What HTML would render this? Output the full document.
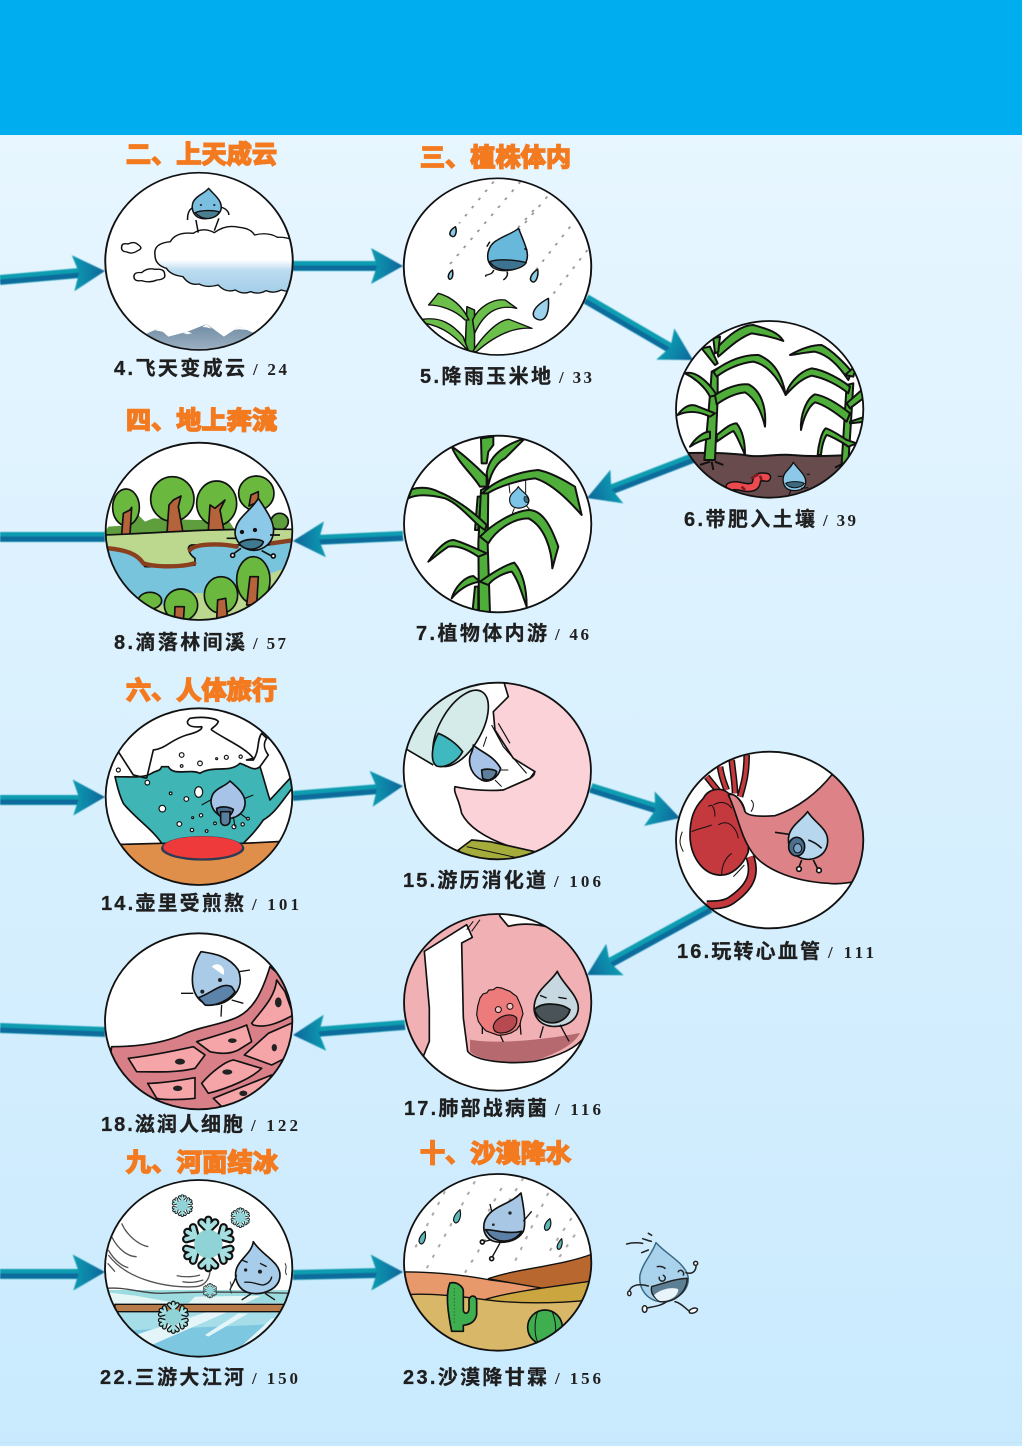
<!DOCTYPE html>
<html lang="zh"><head><meta charset="utf-8"><title>水滴旅行</title>
<style>
html,body{margin:0;padding:0;background:#fff}
svg{display:block}
.t{font-family:"Liberation Sans","Noto Sans CJK SC",sans-serif;font-weight:700;font-size:25px;fill:#f47a20;stroke:#f47a20;stroke-width:1.7}
.l{font-family:"Liberation Sans","Noto Sans CJK SC",sans-serif;font-weight:700;font-size:20px;fill:#1f1f1f;stroke:#1f1f1f;stroke-width:.3}
.p{font-family:"Liberation Serif","Noto Sans CJK SC",serif;font-weight:700;font-size:17px;fill:#1f1f1f}
</style></head><body>
<svg width="1022" height="1453" viewBox="0 0 1022 1453" xmlns="http://www.w3.org/2000/svg">
<defs>
<linearGradient id="bg" x1="0" y1="0" x2="0" y2="1"><stop offset="0" stop-color="#eaf7ff"/><stop offset="1" stop-color="#c9eafe"/></linearGradient>
<linearGradient id="hd" x1="0" y1="0" x2="1" y2="0"><stop offset="0" stop-color="#129cb0"/><stop offset=".55" stop-color="#0c7ea6"/><stop offset="1" stop-color="#0b6496"/></linearGradient>
<linearGradient id="cl" x1="0" y1="0" x2="0" y2="1"><stop offset="0" stop-color="#fff"/><stop offset=".5" stop-color="#fff"/><stop offset=".66" stop-color="#bcdcf0"/><stop offset="1" stop-color="#a3cde8"/></linearGradient>
<linearGradient id="mt" x1="0" y1="0" x2="0" y2="1"><stop offset="0" stop-color="#6f8ba3"/><stop offset="1" stop-color="#a3b6c6"/></linearGradient>
<filter id="b1" x="-20%" y="-40%" width="140%" height="180%"><feGaussianBlur stdDeviation=".5"/></filter>
<g id="ah"><path d="M0,0L-32,-18L-26,0L-32,18Z" fill="url(#hd)"/></g>
<g id="arm"><path d="M0,0V-85M0,-52L-24,-76M0,-52L24,-76" fill="none" stroke="#111" stroke-width="30" stroke-linecap="round"/><path d="M0,0V-85M0,-52L-24,-76M0,-52L24,-76" fill="none" stroke="#a5dfe0" stroke-width="15" stroke-linecap="round"/></g>
<g id="sf"><use href="#arm"/><use href="#arm" transform="rotate(60)"/><use href="#arm" transform="rotate(120)"/><use href="#arm" transform="rotate(180)"/><use href="#arm" transform="rotate(240)"/><use href="#arm" transform="rotate(300)"/><circle r="50" fill="#8fd3d6"/></g>
</defs>

<rect width="1022" height="1446" fill="url(#bg)"/>
<rect y="1442" width="1022" height="1" fill="#bfe3f5"/>
<rect width="1022" height="135" fill="#00aeef"/>

<!-- arrows -->
<g filter="url(#b1)">
<g stroke-linecap="butt" fill="none">
<path d="M0,280L80,273M293,266H380M586,299L670,348M693,458L610,490M403,536L316,540M105,537H0M0,800H80M293,796L380,789M591,788L658,809M710,908L608,964M405,1025L316,1032M105,1032L0,1028M0,1274H80M293,1275L380,1273" stroke="#0d9cb0" stroke-width="10"/>
<path d="M0,282L80,275M293,268H380M585,301L669,350M694,460L611,492M403,538L316,542M105,539H0M0,802H80M293,798L380,791M590,790L657,811M711,910L609,966M405,1027L316,1034M105,1034L0,1030M0,1276H80M293,1277L380,1275" stroke="#0b6c9c" stroke-width="5"/>
</g>
<use href="#ah" transform="translate(105,271) rotate(-4)"/>
<use href="#ah" transform="translate(403,266)"/>
<use href="#ah" transform="translate(693,360) rotate(30)"/>
<use href="#ah" transform="translate(587,498) rotate(159)"/>
<use href="#ah" transform="translate(293,541) rotate(177)"/>
<use href="#ah" transform="translate(105,797) rotate(-1)"/>
<use href="#ah" transform="translate(403,786) rotate(-5)"/>
<use href="#ah" transform="translate(680,818) rotate(17)"/>
<use href="#ah" transform="translate(587,975) rotate(151)"/>
<use href="#ah" transform="translate(293,1035) rotate(176)"/>
<use href="#ah" transform="translate(105,1272) rotate(-1)"/>
<use href="#ah" transform="translate(403,1272) rotate(-1)"/>
</g>

<!-- A: cloud -->
<g transform="translate(0,120) scale(.3827,.3333)">
<clipPath id="cA"><ellipse cx="520" cy="424" rx="245" ry="266"/></clipPath>
<ellipse cx="520" cy="424" rx="245" ry="266" fill="#fff"/>
<g clip-path="url(#cA)" stroke="#111" stroke-width="4" stroke-linejoin="round">
<path d="M405,405Q400,370 445,365Q460,335 505,340Q530,320 560,338Q590,312 625,322Q655,325 665,345Q700,335 725,352Q750,350 775,365L775,510Q755,518 735,510Q715,522 695,512Q675,525 655,515Q635,525 615,510Q590,520 570,495Q540,505 520,492Q495,498 478,470Q445,465 435,445Q405,435 405,405Z" fill="url(#cl)"/>
<path d="M318,380Q318,368 335,372Q350,362 362,375Q375,385 360,392Q345,404 332,396Q315,395 318,380Z" fill="#fff"/>
<path d="M350,470Q350,455 370,458Q385,442 405,448Q430,445 430,462Q435,478 410,480Q390,490 370,482Q350,485 350,470Z" fill="#fff"/>
<path d="M385,640L415,625L440,650L490,635L540,612L585,650L625,620L665,640V700H385Z" fill="url(#mt)" stroke="none"/>
<path d="M405,631L415,625L428,636L415,633ZM478,639L490,635L502,640L490,643ZM528,621L540,612L553,626L540,622ZM612,630L625,620L645,630L625,628Z" fill="#fff" stroke="none"/>
<path d="M518,338L512,300M560,332L572,295M505,262C490,270 490,290 490,300M578,262C590,265 598,275 598,285" fill="none"/>
<path d="M545,205C560,225 580,240 578,265C575,290 545,300 525,295C505,290 498,265 505,245C515,225 535,220 545,205Z" fill="#7bbfe0"/>
<path d="M510,278C525,270 560,270 573,276C565,298 530,305 510,278Z" fill="#4a7f92"/>
<circle cx="525" cy="255" r="3" fill="#222" stroke="none"/><circle cx="560" cy="255" r="3" fill="#222" stroke="none"/>
</g>
<ellipse cx="520" cy="424" rx="245" ry="266" fill="none" stroke="#111" stroke-width="5"/>
</g>

<!-- B: rain on corn -->
<g transform="translate(0,120) scale(.3827,.3333)">
<clipPath id="cB"><ellipse cx="1300" cy="440" rx="245" ry="265"/></clipPath>
<ellipse cx="1300" cy="440" rx="245" ry="265" fill="#fff"/>
<g clip-path="url(#cB)" stroke="#111" stroke-width="4" stroke-linejoin="round">
<path d="M1290,185L1200,310M1360,185L1170,440M1430,230L1290,420M1395,270L1310,380M1490,320L1400,450M1535,390L1440,530" fill="none" stroke="#999" stroke-width="5" stroke-dasharray="8 22"/>
<path d="M1355,325C1370,370 1385,400 1375,425C1360,455 1300,460 1285,440C1265,415 1275,375 1300,360C1320,345 1340,340 1355,325Z" fill="#68b8dc"/>
<path d="M1280,425C1300,415 1350,420 1375,428C1360,455 1295,460 1280,425Z" fill="#3d7390"/>
<path d="M1290,450C1285,470 1265,460 1270,470M1325,455C1330,470 1315,480 1315,480M1378,390L1370,386M1272,380L1280,365" fill="none"/>
<path d="M1190,320C1195,335 1190,350 1183,350C1170,345 1175,330 1190,320Z" fill="#8ccbe4"/>
<path d="M1182,450C1185,465 1182,478 1175,478C1168,472 1172,458 1182,450Z" fill="#8ccbe4"/>
<path d="M1405,448C1408,470 1400,488 1392,486C1380,480 1388,460 1405,448Z" fill="#8ccbe4"/>
<path d="M1433,535C1435,570 1430,600 1410,600C1385,595 1385,565 1433,535Z" fill="#9dd2ec"/>
<path d="M1215,700L1220,560L1240,570L1240,700Z" fill="#4fa838"/>
<path d="M1120,555L1145,520C1180,530 1210,560 1225,600L1215,600C1190,570 1150,555 1120,555Z" fill="#6cbf4b"/>
<path d="M1235,600C1250,560 1290,535 1320,540L1350,565C1310,555 1270,565 1240,640Z" fill="#6cbf4b"/>
<path d="M1105,598C1150,590 1180,610 1210,650L1225,695C1190,650 1160,620 1110,610Z" fill="#6cbf4b"/>
<path d="M1235,695C1260,650 1300,600 1330,598L1390,625C1340,620 1290,650 1245,695Z" fill="#6cbf4b"/>
</g>
<ellipse cx="1300" cy="440" rx="245" ry="265" fill="none" stroke="#111" stroke-width="5"/>
</g>

<!-- C: soil -->
<g transform="translate(665,315) scale(.3333)">
<clipPath id="cC"><ellipse cx="314" cy="283" rx="281" ry="265"/></clipPath>
<ellipse cx="314" cy="283" rx="281" ry="265" fill="#fff"/>
<g clip-path="url(#cC)" stroke="#111" stroke-width="6" stroke-linejoin="round">
<path d="M20,415C120,412 200,415 240,420C280,430 340,415 380,420C440,425 500,425 610,415V560H20Z" fill="#684b4d"/>
<g fill="#4fae3a">
<path d="M118,435C125,350 135,250 140,170L158,160L158,250L150,435Z"/>
<path d="M155,100C190,60 230,30 265,30C300,40 340,50 355,78C320,65 290,60 260,55C220,70 190,100 160,125Z"/>
<path d="M110,100L135,95L158,145L150,150Z"/><path d="M145,70L165,65L160,110L150,115Z"/>
<path d="M60,175C90,165 130,200 155,240L135,245C120,215 90,190 60,175Z"/>
<path d="M145,170C190,135 240,118 280,120C320,135 350,170 362,240C340,190 310,150 265,140C220,145 180,165 155,185Z"/>
<path d="M150,240C180,220 220,205 250,208C285,225 305,270 300,335C290,290 270,250 240,232C210,235 180,250 155,268Z"/>
<path d="M38,300C60,270 80,265 100,275L150,295L135,305C105,290 70,285 38,300Z"/>
<path d="M75,395C90,370 115,350 135,350L135,370C110,375 90,385 75,395Z"/>
<path d="M155,360C175,345 195,325 215,325C235,350 240,390 240,420C225,385 215,360 205,348C190,355 170,370 155,380Z"/>
<path d="M530,445L538,320L545,210L565,205L558,320L550,445Z"/>
<path d="M375,120C410,100 440,90 470,90C500,105 540,145 560,170L550,195C520,150 490,120 450,110C420,112 395,118 375,120Z"/>
<path d="M362,240C370,210 400,170 440,160C480,165 530,195 555,215L550,235C520,210 480,190 440,182C410,190 385,215 362,240Z"/>
<path d="M408,345C405,300 425,250 450,238C490,245 530,275 555,295L545,320C515,295 480,270 450,262C430,275 415,310 408,345Z"/>
<path d="M458,420C460,390 470,350 482,340C500,345 530,365 545,375L575,385L550,395C530,380 500,365 485,360C475,375 470,400 468,420Z"/>
<path d="M545,265L590,225L595,250L555,280Z"/><path d="M555,320L600,305V320L555,325Z"/><path d="M540,180L575,150L565,185Z"/>
</g>
<path d="M135,440L105,450M140,440L145,465M150,440L175,450M530,448L510,458" fill="none"/>
<path d="M195,515C220,505 240,525 265,515C285,505 260,480 305,487" fill="none" stroke-width="28" stroke-linecap="round"/>
<path d="M195,515C220,505 240,525 265,515C285,505 260,480 305,487" fill="none" stroke="#ec4a4e" stroke-width="19" stroke-linecap="round"/>
<path d="M230,515L240,525M258,490L280,478M285,482L290,495" stroke="#7b1f24" stroke-width="8" fill="none"/>
<path d="M385,442C400,465 425,480 422,505C420,525 395,530 375,525C355,520 350,495 358,478C365,465 378,458 385,442Z" fill="#8cc8e8" stroke-width="4"/>
<path d="M362,505C375,498 405,498 418,505C410,520 375,525 362,505Z" fill="#3d6a7d" stroke-width="3"/>
<path d="M338,484H355M425,478H435M378,525L370,545M408,520L430,518" fill="none" stroke-width="3.5"/>
</g>
<ellipse cx="314" cy="283" rx="281" ry="265" fill="none" stroke="#111" stroke-width="5.5"/>
</g>

<!-- D: stalk -->
<g transform="translate(395,430) scale(.3333)">
<clipPath id="cD"><ellipse cx="308" cy="282" rx="281" ry="265"/></clipPath>
<ellipse cx="308" cy="282" rx="281" ry="265" fill="#fff"/>
<g clip-path="url(#cD)" stroke="#111" stroke-width="6" stroke-linejoin="round" fill="#4fae3a">
<path d="M232,550L240,470L250,470L250,550Z"/><path d="M240,300L248,200L258,200L250,300Z"/>
<path d="M252,550L250,340L258,180L280,170L278,340L285,550Z"/>
<path d="M262,190C300,150 370,125 430,120C480,130 530,165 540,170L560,255C520,210 470,160 420,145C370,150 310,170 278,190Z"/>
<path d="M40,205L50,178C80,168 110,175 130,185C170,200 230,240 275,285L270,300C240,285 200,225 150,205C110,195 70,190 40,205Z"/>
<path d="M255,320C290,285 350,245 400,240C440,240 465,280 490,350L472,415C470,360 450,290 400,265C350,265 300,305 280,340Z"/>
<path d="M100,395C120,365 150,330 175,330C200,335 240,355 275,370L250,380C220,360 190,345 160,350C130,370 115,385 100,395Z"/>
<path d="M170,505C180,470 210,440 235,438L255,455C220,460 190,480 170,505Z"/>
<path d="M255,455C290,430 330,405 358,398C385,430 395,480 395,530C380,490 370,450 350,425C320,430 290,450 280,465Z"/>
<path d="M170,50C195,65 240,105 275,140L275,170L255,170C230,130 190,100 170,50Z"/>
<path d="M275,130C280,90 310,50 390,25L330,85C310,95 290,120 280,165Z"/>
<path d="M258,25L295,20L295,45L280,65L275,100L260,100Z"/>
<path d="M370,170C380,185 402,195 402,212C400,232 375,238 358,232C342,225 340,205 350,192C358,182 365,180 370,170Z" fill="#7cc4e8" stroke-width="3.5"/>
<path d="M388,200C398,198 402,208 400,216C392,222 384,212 388,200Z" fill="#3d6a7d" stroke-width="2"/>
<path d="M345,190L342,165M392,190L392,150M358,235L352,250M395,228L405,240" fill="none" stroke-width="3"/>
</g>
<ellipse cx="308" cy="282" rx="281" ry="265" fill="none" stroke="#111" stroke-width="5.5"/>
</g>

<!-- E: forest stream -->
<g transform="translate(95,430) scale(.3333)">
<clipPath id="cE"><ellipse cx="312" cy="304" rx="280" ry="266"/></clipPath>
<ellipse cx="312" cy="304" rx="280" ry="266" fill="#fff"/>
<g clip-path="url(#cE)" stroke="#111" stroke-width="5" stroke-linejoin="round">
<ellipse cx="554" cy="275" rx="26" ry="25" fill="#5f9e3d"/>
<path d="M25,315L40,290L110,285L130,255L150,275L175,265L300,270L400,270L420,300H600V320H25Z" fill="#5f9e3d" stroke="none"/>
<ellipse cx="93" cy="232" rx="40" ry="55" fill="#6ab83d"/><ellipse cx="232" cy="207" rx="65" ry="67" fill="#6ab83d"/><ellipse cx="365" cy="220" rx="60" ry="67" fill="#6ab83d"/><ellipse cx="484" cy="190" rx="53" ry="52" fill="#6ab83d"/>
<path d="M80,315L85,250L105,240L110,232L105,315Z" fill="#b5633a"/>
<path d="M216,308L222,225L235,210L258,198L250,230L264,308Z" fill="#b5633a"/>
<path d="M340,302L345,225L360,235L390,210L375,240L387,302Z" fill="#b5633a"/>
<path d="M462,228L468,195L490,185L490,215Z" fill="#b5633a"/>
<rect x="20" y="335" width="590" height="240" fill="#77c4dc" stroke="none"/>
<path d="M25,315C200,310 300,295 600,298V330L520,345H290C270,350 285,375 300,385V405C250,410 170,410 150,410C130,385 120,360 25,350Z" fill="#bcd88f"/>
<path d="M40,355C90,360 125,370 145,400C180,412 260,412 298,400M285,360C300,340 380,340 425,350M530,340L600,330" fill="none" stroke="#8a3f1e" stroke-width="13" stroke-linecap="round"/>
<path d="M130,510C170,490 200,530 215,530C250,480 300,490 330,490C400,470 520,440 600,400V580H130Z" fill="#bcd88f" stroke="none"/>
<ellipse cx="475" cy="450" rx="50" ry="70" fill="#6ab83d"/><path d="M455,525L465,440L490,440L485,525Z" fill="#b5633a"/>
<ellipse cx="378" cy="495" rx="50" ry="55" fill="#6ab83d"/><path d="M365,570L368,510L392,505L398,570Z" fill="#b5633a"/>
<ellipse cx="258" cy="525" rx="50" ry="48" fill="#6ab83d"/><path d="M238,575L240,530L268,530L265,575Z" fill="#b5633a"/>
<ellipse cx="165" cy="512" rx="35" ry="25" fill="#6ab83d"/>
<path d="M490,205C520,250 540,280 535,310C530,350 490,365 465,360C430,350 415,320 422,295C430,260 470,240 490,205Z" fill="#8cc8e8"/>
<path d="M432,340C450,325 490,325 505,335C500,360 450,368 432,340Z" fill="#3d7a90"/>
<circle cx="441" cy="306" r="4" fill="#111"/><circle cx="480" cy="300" r="4" fill="#111"/>
<path d="M395,325H425M525,315H555M438,355L415,372M500,362L530,378" fill="none"/>
<circle cx="413" cy="376" r="6" fill="#fff"/><circle cx="535" cy="378" r="6" fill="#fff"/>
</g>
<ellipse cx="312" cy="304" rx="280" ry="266" fill="none" stroke="#111" stroke-width="5.5"/>
</g>

<!-- F: teapot -->
<g transform="translate(90,680) scale(.3333)">
<clipPath id="cF"><ellipse cx="327" cy="350" rx="280" ry="265"/></clipPath>
<ellipse cx="327" cy="350" rx="280" ry="265" fill="#fff"/>
<g clip-path="url(#cF)" stroke="#111" stroke-width="5" stroke-linejoin="round">
<path d="M30,495L215,490L460,490L620,482V630H30Z" fill="#e08f4a"/>
<path d="M75,290C120,290 160,295 185,280C200,270 210,275 215,260L235,260C250,290 300,265 330,280C370,255 420,280 450,250C480,260 490,275 510,260C520,290 530,330 540,360L600,295L610,320C575,365 555,400 520,420C500,450 480,470 460,490L215,490C190,450 130,410 100,370C85,340 80,310 75,290Z" fill="#3fb5b5"/>
<path d="M85,215L130,285L170,295M170,295L190,210C230,205 240,180 290,165C310,160 340,150 335,140C290,145 285,125 300,115C340,108 380,115 385,125C380,140 360,145 365,150C400,175 470,205 490,235L470,240L490,240C510,210 500,180 515,160L530,175C520,190 520,205 535,225L510,260" fill="none"/>
<ellipse cx="338" cy="505" rx="125" ry="37" fill="#2c3b55" stroke="none"/>
<ellipse cx="338" cy="502" rx="118" ry="33" fill="#ee3a3a" stroke="none"/>
<g fill="#fff" stroke-width="3.5"><circle cx="275" cy="225" r="7"/><circle cx="330" cy="250" r="7"/><circle cx="409" cy="232" r="6"/><circle cx="452" cy="230" r="5"/><circle cx="380" cy="236" r="3"/><circle cx="275" cy="258" r="4"/><circle cx="172" cy="308" r="7"/><ellipse cx="326" cy="336" rx="12" ry="16"/><circle cx="289" cy="357" r="7"/><circle cx="242" cy="340" r="4"/><circle cx="217" cy="386" r="10"/><circle cx="268" cy="432" r="7"/><circle cx="306" cy="450" r="5"/><circle cx="350" cy="453" r="4"/><circle cx="333" cy="406" r="5"/><circle cx="308" cy="413" r="3"/><circle cx="375" cy="430" r="4"/><circle cx="432" cy="440" r="6"/><circle cx="458" cy="433" r="5"/><circle cx="474" cy="416" r="4"/><circle cx="85" cy="270" r="6"/></g>
<path d="M420,303C440,320 470,345 465,375C460,405 425,425 395,410C365,395 355,365 370,340C385,320 405,320 420,303Z" fill="#a7c4e8"/>
<path d="M380,385C395,378 415,380 430,388C425,410 405,418 392,410C385,405 380,395 380,385Z" fill="#4d6f94"/>
<path d="M392,395H420V425C415,440 395,440 392,425Z" fill="#5a7f9e"/>
<path d="M365,358L335,375M465,355L490,345M430,410L435,440M450,400L470,415" fill="none" stroke-width="3.5"/>
</g>
<ellipse cx="327" cy="350" rx="280" ry="265" fill="none" stroke="#111" stroke-width="5.5"/>
</g>

<!-- G: glass & stomach -->
<g transform="translate(90,680) scale(.3333)">
<clipPath id="cG"><ellipse cx="1222" cy="273" rx="281" ry="265"/></clipPath>
<ellipse cx="1222" cy="273" rx="281" ry="265" fill="#fff"/>
<g clip-path="url(#cG)" stroke="#111" stroke-width="5" stroke-linejoin="round">
<path d="M1240,0L1255,50L1210,95L1215,150L1270,235L1335,275L1320,295L1240,330C1170,335 1120,325 1095,320C1090,340 1105,350 1115,400C1140,450 1210,490 1330,520L1530,500V0Z" fill="#fad2d8"/>
<path d="M1105,510L1145,480L1200,485L1335,515L1300,560H1150Z" fill="#a5ac3c"/><path d="M1130,500L1290,535" fill="none" stroke-width="3"/>
<path d="M945,205L1030,255L1045,160L1120,40L1180,12L1000,0L930,120Z" fill="#d5ebe9" stroke="none"/>
<path d="M945,205L1030,255" fill="none"/>
<ellipse cx="1112" cy="145" rx="62" ry="127" transform="rotate(30 1112 145)" fill="#d5ebe9"/>
<path d="M1045,160C1070,170 1100,190 1118,215C1100,250 1060,265 1040,258C1020,245 1025,195 1045,160Z" fill="#3fb8bf"/>
<path d="M1205,135L1240,200L1310,280M1225,130L1260,190M1330,270C1340,280 1330,290 1320,295" fill="none" stroke-width="3.5"/>
<path d="M1150,195C1170,215 1210,225 1232,265C1225,295 1195,310 1175,300C1145,285 1135,255 1140,230C1145,215 1150,210 1150,195Z" fill="#a7c4e8"/>
<path d="M1175,270C1190,265 1215,268 1220,275C1215,300 1190,305 1178,295Z" fill="#5d7f9c"/>
<path d="M1180,200L1190,170M1232,270L1255,270M1215,300L1235,320" fill="none" stroke-width="3"/>
</g>
<ellipse cx="1222" cy="273" rx="281" ry="265" fill="none" stroke="#111" stroke-width="5.5"/>
</g>

<!-- H: heart -->
<g transform="translate(665,745) scale(.3333)">
<clipPath id="cH"><ellipse cx="314" cy="285" rx="281" ry="265"/></clipPath>
<ellipse cx="314" cy="285" rx="281" ry="265" fill="#fff"/>
<g clip-path="url(#cH)" stroke="#111" stroke-width="5" stroke-linejoin="round">
<path d="M255,335C270,380 265,420 200,465C180,480 150,480 125,480" fill="none" stroke-width="28"/>
<path d="M255,335C270,380 265,420 200,465C180,480 150,480 125,480" fill="none" stroke="#c4393e" stroke-width="18"/>
<path d="M125,95L165,145M165,65C170,100 180,120 185,135M200,45C205,90 210,120 210,145M245,30C245,90 235,120 225,155" fill="none" stroke-width="20"/>
<path d="M125,95L165,145M165,65C170,100 180,120 185,135M200,45C205,90 210,120 210,145M245,30C245,90 235,120 225,155" fill="none" stroke="#c4393e" stroke-width="11"/>
<path d="M115,160C130,130 170,125 190,145C215,150 235,170 240,200C255,240 250,290 250,320C235,360 200,395 160,390C110,385 75,330 75,270C75,225 85,190 115,160Z" fill="#c4393e"/>
<path d="M130,185C145,170 150,200 150,215M160,240C190,220 215,250 220,280M200,325C180,340 170,360 170,390M80,260C100,250 115,250 140,240M145,180C170,165 190,175 200,190" fill="none" stroke-width="3"/>
<path d="M190,150C215,140 235,180 240,200C250,215 290,215 330,212C400,190 460,140 500,90L610,90V400C570,410 530,420 490,415C400,410 300,380 260,320C225,270 215,200 190,150Z" fill="#dd8287"/>
<path d="M258,165C270,175 265,190 258,200M52,260C40,290 45,300 55,320M238,360C225,375 215,385 205,395" fill="none" stroke-width="3"/>
<path d="M428,200C450,235 490,250 488,290C485,335 440,350 410,340C380,330 365,300 372,270C380,240 410,225 428,200Z" fill="#b7d7ee"/>
<ellipse cx="395" cy="305" rx="24" ry="28" fill="#4a6f8f"/><ellipse cx="398" cy="310" rx="12" ry="14" fill="#7da4c4" stroke-width="3"/>
<path d="M330,262L372,268M410,345L400,372M445,345L460,375M430,285C445,290 460,300 470,310" fill="none"/>
<circle cx="402" cy="372" r="7" fill="#fff"/><circle cx="462" cy="376" r="7" fill="#fff"/>
</g>
<ellipse cx="314" cy="285" rx="281" ry="265" fill="none" stroke="#111" stroke-width="5.5"/>
</g>

<!-- I: lung -->
<g transform="translate(395,908) scale(.3333)">
<clipPath id="cI"><ellipse cx="308" cy="283" rx="281" ry="265"/></clipPath>
<ellipse cx="308" cy="283" rx="281" ry="265" fill="#f0b0b4"/>
<g clip-path="url(#cI)" stroke="#111" stroke-width="5" stroke-linejoin="round">
<path d="M225,395C300,410 450,395 555,375C540,405 500,430 430,455C360,470 250,460 225,430Z" fill="#b66a70" stroke="none"/>
<path d="M88,130L215,50L232,88L200,105L205,330L218,430C240,460 340,470 420,460C490,445 545,420 570,385L610,570H10L85,445L103,400L103,300Z" fill="#fff"/>
<path d="M315,25L340,55C380,45 420,45 470,60L480,5L310,5Z" fill="#fff"/>
<path d="M235,40L215,65M255,35L230,70" fill="none" stroke-width="3"/>
<path d="M255,270L264,258L275,255L282,246L295,245L305,238L320,240L332,245L345,250L355,258L365,265L372,280L380,300L384,318L378,335L375,350L365,365L348,375L330,380L310,382L290,375L272,368L260,355L250,340L245,320L248,295Z" fill="#ee7b7b" stroke-width="3.5"/>
<path d="M295,355C300,325 350,310 365,330C370,360 340,375 320,375C305,375 295,370 295,355Z" fill="#b74a50" stroke-width="3.5"/>
<circle cx="310" cy="305" r="9" fill="#f6c3c3" stroke-width="3"/><circle cx="345" cy="295" r="9" fill="#f6c3c3" stroke-width="3"/>
<path d="M262,355L262,378M315,380L325,402M375,345L378,380" fill="none" stroke-width="4"/>
<path d="M487,190C500,225 550,260 550,300C548,340 510,358 470,355C430,350 410,320 420,280C430,240 470,220 487,190Z" fill="#c8d8e0"/>
<path d="M418,305C440,280 500,285 525,305C515,350 440,365 418,305Z" fill="#4a5358"/>
<path d="M445,355L435,390M495,350L522,400M435,262L455,270M490,268L515,272" fill="none" stroke-width="4"/>
</g>
<ellipse cx="308" cy="283" rx="281" ry="265" fill="none" stroke="#111" stroke-width="5.5"/>
</g>

<!-- J: cells -->
<g transform="translate(95,925) scale(.3333)">
<clipPath id="cJ"><ellipse cx="311" cy="289" rx="281" ry="264"/></clipPath>
<ellipse cx="311" cy="289" rx="281" ry="264" fill="#fff"/>
<g clip-path="url(#cJ)" stroke="#111" stroke-width="5" stroke-linejoin="round">
<path d="M50,365C130,365 200,355 260,330C310,305 380,300 430,275C480,250 505,190 525,125L610,200V570H20Z" fill="#d97f88"/>
<g fill="#f5a5a8">
<path d="M100,400C180,390 250,375 295,365L330,390L300,430C240,445 170,440 125,440Z"/>
<path d="M305,350C350,335 410,320 455,300L470,350L430,375C400,390 370,385 345,380Z"/>
<path d="M158,475C200,475 260,465 300,458V520C260,525 200,525 185,520Z"/>
<path d="M320,475C350,440 390,410 415,405C450,415 480,425 500,430C470,460 400,490 340,505Z"/>
<path d="M448,390L520,325L600,290V385L530,420Z"/>
<path d="M470,295C495,260 540,220 545,165L570,200L595,270C550,295 510,310 475,300Z"/>
<path d="M355,520L530,450L500,510L380,545Z"/>
</g>
<g fill="#222" stroke="none"><ellipse cx="255" cy="410" rx="15" ry="9"/><ellipse cx="412" cy="347" rx="13" ry="7"/><ellipse cx="248" cy="490" rx="14" ry="8"/><ellipse cx="397" cy="441" rx="15" ry="8"/><ellipse cx="538" cy="368" rx="8" ry="11"/><ellipse cx="550" cy="232" rx="10" ry="15"/><ellipse cx="445" cy="505" rx="12" ry="8"/></g>
<path d="M318,80C350,85 400,90 430,135C445,175 430,205 400,225C370,245 330,245 310,220C285,190 285,130 318,80Z" fill="#a9cbe8"/>
<path d="M310,218C350,205 380,170 410,185L420,200C405,225 360,245 330,240Z" fill="#5c83a9"/>
<path d="M432,140L465,135M295,205L258,205M380,240L378,275M410,225L445,235" fill="none" stroke-width="4"/>
<circle cx="322" cy="200" r="6" fill="#222" stroke="none"/><circle cx="375" cy="165" r="6" fill="#222" stroke="none"/>
<path d="M350,125C370,105 395,130 385,150" fill="#fff" stroke="none"/>
</g>
<ellipse cx="311" cy="289" rx="281" ry="264" fill="none" stroke="#111" stroke-width="5.5"/>
</g>

<!-- K: ice -->
<g transform="translate(95,1175) scale(.3333)">
<clipPath id="cK"><ellipse cx="311" cy="280" rx="281" ry="265"/></clipPath>
<ellipse cx="311" cy="280" rx="281" ry="265" fill="#fff"/>
<g clip-path="url(#cK)" stroke-linejoin="round">
<path d="M20,345H600V385H20Z" fill="#9cdbe0"/>
<path d="M20,350L120,362L250,385H20ZM300,365L500,362L450,385L280,385Z" fill="#e6f6f7"/>
<rect x="20" y="408" width="590" height="150" fill="#7dc8e0"/>
<path d="M20,408H600V445L120,465L20,500Z" fill="#a5dde8"/>
<path d="M120,480L340,410H400L170,510ZM330,480L430,415H460L340,485ZM400,550L530,430H560L440,550ZM20,520L120,510L40,560Z" fill="#e3f5f9"/>
<rect x="60" y="388" width="510" height="22" fill="#b87c4a" stroke="#111" stroke-width="4"/>
<path d="M30,340C100,335 130,355 200,355C300,350 400,350 600,355" fill="none" stroke="#444" stroke-width="4"/>
<path d="M40,240C100,320 230,340 300,335C330,335 345,310 345,285M80,145C95,180 130,210 160,215M50,185C70,225 100,245 125,245M40,225C60,260 85,275 100,278M38,265L60,290M245,302C270,308 300,305 315,300M262,320C285,325 310,320 325,315" fill="none" stroke="#555" stroke-width="4"/>
<use href="#sf" transform="translate(340,207) scale(.85)"/>
<use href="#sf" transform="translate(262,92) scale(.34)"/>
<use href="#sf" transform="translate(436,128) scale(.31)"/>
<use href="#sf" transform="translate(345,347) scale(.23)"/>
<use href="#sf" transform="translate(235,427) scale(.5)"/>
<g stroke="#111" stroke-width="5">
<path d="M475,200C500,240 555,260 555,300C555,340 510,360 470,355C430,350 415,310 425,280C435,250 470,235 475,200Z" fill="#a7cdea"/>
<path d="M448,322C470,318 490,330 505,330C525,325 530,310 530,305M440,255L458,262M495,265L515,275M470,355L440,375M510,355L540,375M425,300C415,330 405,340 405,345" fill="none" stroke-width="4"/>
<circle cx="452" cy="285" r="5" fill="#222" stroke="none"/><circle cx="495" cy="290" r="6" fill="#222" stroke="none"/>
<path d="M570,265C580,280 565,285 575,300M405,320C415,335 400,340 410,355" fill="none" stroke-width="3" stroke="#333"/>
</g>
</g>
<ellipse cx="311" cy="280" rx="281" ry="265" fill="none" stroke="#111" stroke-width="5.5"/>
</g>

<!-- L: desert -->
<g transform="translate(395,1168) scale(.3333)">
<clipPath id="cL"><ellipse cx="308" cy="283" rx="281" ry="265"/></clipPath>
<ellipse cx="308" cy="283" rx="281" ry="265" fill="#fff"/>
<g clip-path="url(#cL)" stroke="#111" stroke-width="5" stroke-linejoin="round">
<path d="M240,40L90,310M385,30L200,330M150,70L60,240M460,75L360,280M530,150L450,270M320,60L280,130M540,200L470,300" fill="none" stroke="#aaa" stroke-width="6" stroke-dasharray="10 26"/>
<rect x="15" y="375" width="590" height="190" fill="#d9b768" stroke="none"/>
<path d="M15,312C100,310 200,320 280,335C350,345 400,350 440,360C380,370 300,385 270,395C200,385 100,375 40,380L15,380Z" fill="#e7996c" stroke-width="4"/>
<path d="M280,332C370,300 500,295 600,255V340C540,350 480,360 440,360C380,350 320,340 280,332Z" fill="#b8682f" stroke-width="4"/>
<path d="M270,395C330,375 440,360 600,338V395C500,405 380,410 270,395Z" fill="#cba640" stroke-width="4"/>
<path d="M165,345C185,340 205,355 205,370V425C205,440 222,440 222,420V395C225,380 245,380 245,400V440C240,465 220,470 205,472V490H170C160,440 150,380 165,345Z" fill="#3fae4f"/>
<path d="M178,360V470" fill="none" stroke="#1e6b30" stroke-width="3" stroke-dasharray="4 6"/>
<ellipse cx="450" cy="478" rx="52" ry="52" fill="#3fae4f"/>
<path d="M428,430C415,470 420,510 430,525M470,428C485,460 485,495 475,520" fill="none" stroke-width="3"/>
<path d="M378,75C385,110 395,165 385,190C365,225 310,230 285,215C260,195 260,160 285,135C310,110 350,105 378,75Z" fill="#a7c7e4"/>
<path d="M272,185C300,185 340,200 380,190C360,225 300,235 272,185Z" fill="#5c7fa8"/>
<path d="M290,130L285,108M385,160L410,130M290,215L262,222M315,225L290,270" fill="none" stroke-width="4"/>
<circle cx="290" cy="272" r="6" fill="#fff"/><circle cx="262" cy="222" r="6" fill="#fff"/>
<circle cx="295" cy="170" r="4" fill="#222" stroke="none"/><circle cx="345" cy="135" r="5" fill="#222" stroke="none"/>
<g fill="#5fb8b8" stroke-width="3.5">
<path d="M195,125C200,145 192,165 182,165C170,160 176,140 195,125Z"/>
<path d="M90,190C95,210 87,228 78,228C66,222 73,205 90,190Z"/>
<path d="M465,152C472,170 464,188 452,187C444,180 450,162 465,152Z"/>
<path d="M500,212C505,230 497,245 490,244C482,240 488,225 500,212Z"/>
</g>
</g>
<ellipse cx="308" cy="283" rx="281" ry="265" fill="none" stroke="#111" stroke-width="5.5"/>
</g>

<!-- runner -->
<g transform="translate(580,1200) scale(.3333)" stroke="#222" stroke-width="4.5" stroke-linejoin="round" stroke-linecap="round">
<path d="M228,128C260,165 320,190 325,235C325,280 280,305 240,305C200,300 175,265 180,225C190,185 215,165 228,128Z" fill="#a9d2ec" stroke="#3b6a85"/>
<path d="M215,260C250,250 290,235 322,235C320,280 280,310 240,305C225,295 210,280 215,260Z" fill="#5d7f94"/>
<path d="M222,285C245,265 280,260 295,268C295,290 265,305 240,303C232,300 226,293 222,285Z" fill="#e8f4fa" stroke="none"/>
<path d="M140,132C155,128 175,128 188,130M188,116C195,118 205,122 214,124M205,100L215,106M185,158L205,150M205,258C175,250 150,255 147,278M318,218C340,225 350,210 348,192M232,200C240,198 250,200 255,205M238,232A9,9 0 1 0 250,226M295,215C300,205 315,215 310,225M260,305C240,320 215,320 195,325M285,305C305,310 315,325 330,335" fill="none"/>
<ellipse cx="148" cy="280" rx="5" ry="7" fill="#fff"/><ellipse cx="347" cy="190" rx="6" ry="6" fill="#fff"/><ellipse cx="194" cy="327" rx="7" ry="10" fill="#fff"/><ellipse cx="340" cy="332" rx="13" ry="7" fill="#fff" transform="rotate(-20 340 332)"/>
</g>

<!-- titles -->
<text class="t" x="126" y="163" textLength="151">二、上天成云</text>
<text class="t" x="420" y="166" textLength="151">三、植株体内</text>
<text class="t" x="126" y="429" textLength="151">四、地上奔流</text>
<text class="t" x="126" y="699" textLength="151">六、人体旅行</text>
<text class="t" x="126" y="1171" textLength="152">九、河面结冰</text>
<text class="t" x="420" y="1162" textLength="151">十、沙漠降水</text>

<!-- labels -->
<text class="l" x="114" y="375" textLength="131">4.飞天变成云</text><text class="p" x="253" y="375" textLength="34">/ 24</text>
<text class="l" x="420" y="383" textLength="131">5.降雨玉米地</text><text class="p" x="559" y="383" textLength="33">/ 33</text>
<text class="l" x="684" y="526" textLength="131">6.带肥入土壤</text><text class="p" x="823" y="526" textLength="33">/ 39</text>
<text class="l" x="416" y="640" textLength="131">7.植物体内游</text><text class="p" x="555" y="640" textLength="34">/ 46</text>
<text class="l" x="114" y="649" textLength="131">8.滴落林间溪</text><text class="p" x="253" y="649" textLength="33">/ 57</text>
<text class="l" x="101" y="910" textLength="143">14.壶里受煎熬</text><text class="p" x="252" y="910" textLength="47">/ 101</text>
<text class="l" x="403" y="887" textLength="143">15.游历消化道</text><text class="p" x="554" y="887" textLength="47">/ 106</text>
<text class="l" x="677" y="958" textLength="143">16.玩转心血管</text><text class="p" x="828" y="958" textLength="46">/ 111</text>
<text class="l" x="404" y="1115" textLength="143">17.肺部战病菌</text><text class="p" x="555" y="1115" textLength="46">/ 116</text>
<text class="l" x="101" y="1131" textLength="142">18.滋润人细胞</text><text class="p" x="251" y="1131" textLength="47">/ 122</text>
<text class="l" x="100" y="1384" textLength="144">22.三游大江河</text><text class="p" x="252" y="1384" textLength="46">/ 150</text>
<text class="l" x="403" y="1384" textLength="144">23.沙漠降甘霖</text><text class="p" x="555" y="1384" textLength="46">/ 156</text>
</svg>
</body></html>
